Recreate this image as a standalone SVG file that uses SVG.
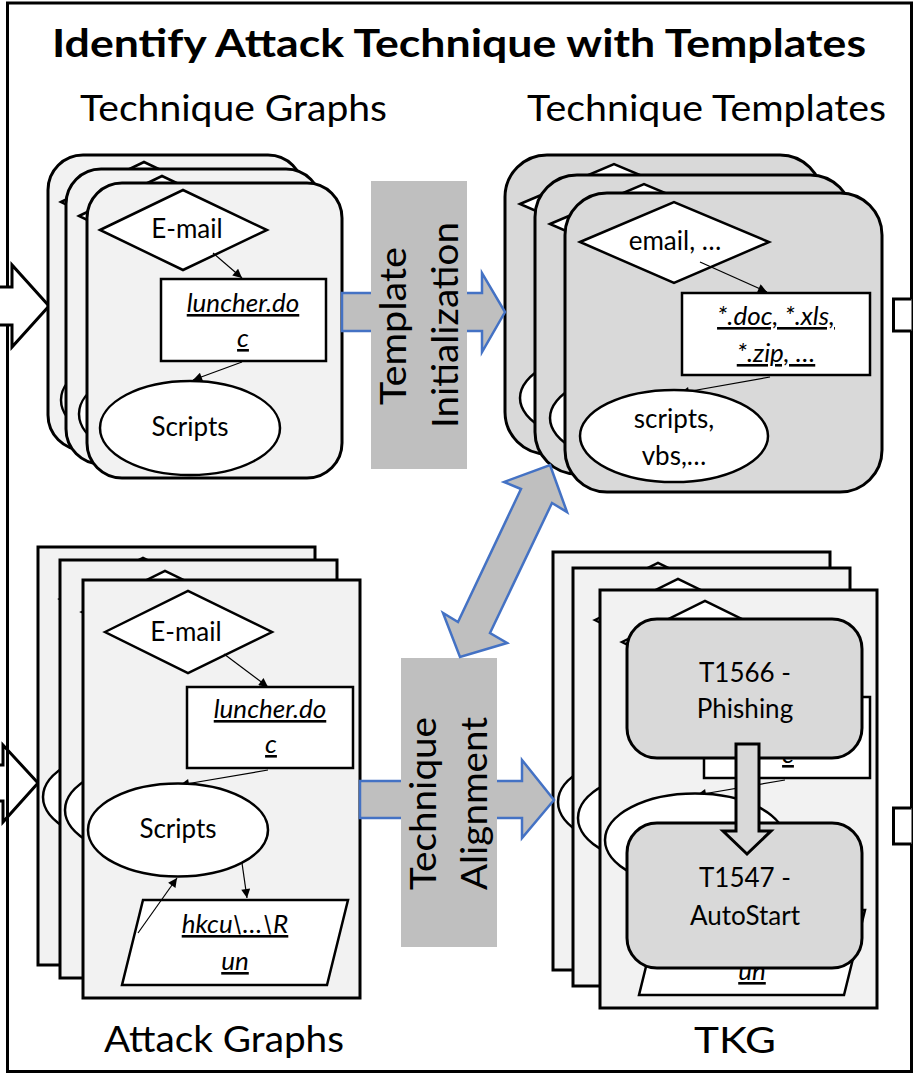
<svg xmlns="http://www.w3.org/2000/svg" xmlns:xlink="http://www.w3.org/1999/xlink" width="913" height="1074" viewBox="0 0 913 1074">
  <style>
    .card-l { fill: #f2f2f2; stroke: #000; stroke-width: 3; }
    .card-d { fill: #d9d9d9; stroke: #000; stroke-width: 3; }
    .shape { fill: #fff; stroke: #000; stroke-width: 2.5; }
    .edge { stroke: #000; stroke-width: 1.2; fill: none; marker-end: url(#ah); }
    .lbl { font-family: Lato, "Liberation Sans", sans-serif; font-size: 26px; text-anchor: middle; fill: #000; }
    .u { font-style: italic; text-decoration: underline; }
    .big { font-family: Lato, "Liberation Sans", sans-serif; font-size: 37px; fill: #000; }
    .title { font-family: Lato, "Liberation Sans", sans-serif; font-size: 39px; font-weight: bold; fill: #000; }
    .blk { fill: #bfbfbf; stroke: #4472c4; stroke-width: 2.5; stroke-linejoin: miter; }
    .pad { fill: #bfbfbf; stroke: none; }
    .io { fill: #fff; stroke: #000; stroke-width: 3; stroke-linejoin: miter; }
  </style>
  <defs>
    <marker id="ah" viewBox="0 0 10 10" refX="10" refY="5" markerWidth="11" markerHeight="9" markerUnits="userSpaceOnUse" orient="auto">
      <path d="M0,0 L10,5 L0,10 z" fill="#000"/>
    </marker>

    <!-- technique graph card (front position) -->
    <g id="tg-card">
      <rect x="87" y="183" width="255" height="295" rx="35" class="card-l"/>
      <polygon points="100,230 183,190 267,230 183,270" class="shape"/>
      <text x="187" y="238" class="lbl">E-mail</text>
      <line x1="213" y1="253" x2="242" y2="278" class="edge"/>
      <rect x="161" y="279" width="165" height="82" class="shape"/>
      <text x="243" y="312" class="lbl u">luncher.do</text>
      <text x="243" y="347" class="lbl u">c</text>
      <line x1="242" y1="362" x2="193" y2="380" class="edge"/>
      <ellipse cx="190" cy="428" rx="90" ry="47" class="shape"/>
      <text x="190" y="436" class="lbl">Scripts</text>
    </g>

    <!-- technique template card (front position) -->
    <g id="tt-card">
      <rect x="565" y="193" width="317" height="299" rx="42" class="card-d"/>
      <polygon points="580,242 674,202 769,242 674,283" class="shape"/>
      <text x="675" y="250" class="lbl">email, …</text>
      <line x1="700" y1="262" x2="767" y2="292" class="edge"/>
      <rect x="682" y="293" width="188" height="82" class="shape"/>
      <text x="776" y="325" class="lbl u">*.doc, *.xls,</text>
      <text x="776" y="362" class="lbl u">*.zip, …</text>
      <line x1="770" y1="377" x2="680" y2="393" class="edge"/>
      <ellipse cx="674" cy="436" rx="94" ry="46" class="shape"/>
      <text x="674" y="428" class="lbl">scripts,</text>
      <text x="674" y="465" class="lbl">vbs,…</text>
    </g>

    <!-- attack graph card (front position) -->
    <g id="ag-card">
      <rect x="83" y="580" width="277" height="418" class="card-l"/>
      <polygon points="105,632 188,591 272,632 188,673" class="shape"/>
      <text x="186" y="641" class="lbl">E-mail</text>
      <line x1="224" y1="654" x2="268" y2="687" class="edge"/>
      <rect x="187" y="687" width="166" height="81" class="shape"/>
      <text x="270" y="718" class="lbl u">luncher.do</text>
      <text x="271" y="753" class="lbl u">c</text>
      <line x1="268" y1="770" x2="180" y2="785" class="edge"/>
      <ellipse cx="178" cy="830" rx="90" ry="46.5" class="shape"/>
      <text x="178" y="838" class="lbl">Scripts</text>
      <line x1="242" y1="863" x2="247" y2="898" class="edge"/>
      <polygon points="143,900 348,900 327,985 122,985" class="shape"/>
      <text x="235" y="933" class="lbl u">hkcu\…\R</text>
      <text x="235" y="970" class="lbl u">un</text>
      <line x1="138" y1="933" x2="177" y2="878" class="edge"/>
    </g>
  </defs>

  <rect x="0" y="0" width="913" height="1074" fill="#fff"/>

  <!-- outer frame with incoming / outgoing stubs -->
  <g id="frame">
    <polygon points="-10,765 3,765 3,745 38,783 3,822 3,801 -10,801" class="io"/>
    <rect x="7.5" y="3" width="904" height="1068.5" fill="none" stroke="#000" stroke-width="3"/>
    <polygon points="-10,287 12,287 12,265 49,306 12,347 12,325 -10,325" class="io"/>
    <path d="M911.5,299 H893.5 V331 H911.5" class="io"/>
    <path d="M911.5,808 H893.5 V844 H911.5" class="io"/>
  </g>

  <g id="headings">
    <text x="52" y="57" class="title" textLength="814" lengthAdjust="spacingAndGlyphs">Identify Attack Technique with Templates</text>
    <text x="80" y="121" class="big" textLength="307" lengthAdjust="spacingAndGlyphs">Technique Graphs</text>
    <text x="527" y="121" class="big" textLength="359" lengthAdjust="spacingAndGlyphs">Technique Templates</text>
    <text x="104" y="1052" class="big" textLength="240" lengthAdjust="spacingAndGlyphs">Attack Graphs</text>
    <text x="694" y="1053" class="big" textLength="82" lengthAdjust="spacingAndGlyphs">TKG</text>
  </g>

  <g id="technique-graphs">
    <use xlink:href="#tg-card" href="#tg-card" transform="translate(-39,-28)"/>
    <use xlink:href="#tg-card" href="#tg-card" transform="translate(-21,-14)"/>
    <use xlink:href="#tg-card" href="#tg-card"/>
  </g>

  <g id="technique-templates">
    <use xlink:href="#tt-card" href="#tt-card" transform="translate(-60,-38)"/>
    <use xlink:href="#tt-card" href="#tt-card" transform="translate(-30,-18)"/>
    <use xlink:href="#tt-card" href="#tt-card"/>
  </g>

  <g id="attack-graphs">
    <use xlink:href="#ag-card" href="#ag-card" transform="translate(-45,-33)"/>
    <use xlink:href="#ag-card" href="#ag-card" transform="translate(-23,-20)"/>
    <use xlink:href="#ag-card" href="#ag-card"/>
  </g>

  <g id="tkg">
    <use xlink:href="#ag-card" href="#ag-card" transform="translate(470,-28)"/>
    <use xlink:href="#ag-card" href="#ag-card" transform="translate(490,-12)"/>
    <use xlink:href="#ag-card" href="#ag-card" transform="translate(517,10)"/>
    <g id="t1566">
      <rect x="627" y="619" width="235" height="139" rx="30" class="card-d"/>
      <text x="745" y="682" class="lbl">T1566 -</text>
      <text x="745" y="718" class="lbl">Phishing</text>
    </g>
    <g id="t1547">
      <rect x="627" y="823" width="235" height="145" rx="30" class="card-d"/>
      <text x="745" y="887" class="lbl">T1547 -</text>
      <text x="745" y="925" class="lbl">AutoStart</text>
    </g>
  </g>

  <g id="connectors">
    <!-- template initialization -->
    <polygon points="342,293 482,293 482,273 505,312 482,352 482,331 342,331" class="blk"/>
    <rect x="371" y="181" width="96" height="288" class="pad"/>
    <text transform="translate(406,405) rotate(-90)" class="big" textLength="158" lengthAdjust="spacingAndGlyphs">Template</text>
    <text transform="translate(458,428) rotate(-90)" class="big" textLength="206" lengthAdjust="spacingAndGlyphs">Initialization</text>

    <!-- technique alignment -->
    <polygon points="360,781 522,781 522,760 554,800 522,838 522,818 360,818" class="blk"/>
    <rect x="401" y="658" width="96" height="289" class="pad"/>
    <text transform="translate(436,890) rotate(-90)" class="big" textLength="173" lengthAdjust="spacingAndGlyphs">Technique</text>
    <text transform="translate(487,890) rotate(-90)" class="big" textLength="173" lengthAdjust="spacingAndGlyphs">Alignment</text>

    <!-- templates <-> alignment -->
    <polygon points="550,465 567,512 552,503 490,633 507,643 460,657 443,613 458,622 521,489 504,482" class="blk"/>

    <!-- phishing -> autostart -->
    <polygon points="736,744 759,744 759,831 771,831 747,854 723,831 736,831" fill="#d9d9d9" stroke="#000" stroke-width="3"/>
  </g>
</svg>
